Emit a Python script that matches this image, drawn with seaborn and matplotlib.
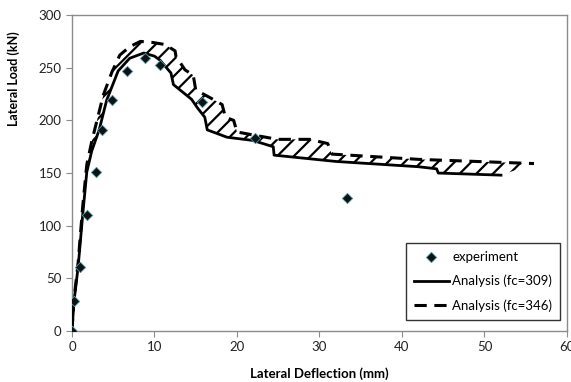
import matplotlib
matplotlib.use("Agg")
import matplotlib.pyplot as plt
import seaborn as sns
import pandas as pd
import numpy as np

# experiment points
exp_x = [0, 0.25, 1.0, 1.8, 2.9, 3.6, 4.85, 6.7, 8.85, 10.7, 15.8, 22.2, 33.3]
exp_y = [0, 28.5, 61, 110, 151, 191, 219, 247, 259, 253, 217, 183, 126]

# analysis fc=309 (solid)
a309_x = [0, 0.25, 0.75, 1.3, 1.8, 2.4, 3.3, 4.2, 5.6, 7.0, 8.7, 10.0, 10.7, 12.0, 12.3,
          14.5, 15.2, 16.1, 16.4, 18.8, 21.9, 24.4, 24.5, 32.0, 42.0, 44.2, 44.4, 52.0]
a309_y = [0, 28, 61, 110, 151, 171, 191, 219, 247, 259, 264, 261, 257, 245, 234,
          220, 212, 203, 191, 184, 181, 175, 167, 161, 156, 154, 150, 148]

# analysis fc=346 (dashed)
a346_x = [0, 0.25, 0.75, 1.3, 1.8, 2.4, 3.8, 4.85, 5.8, 7.0, 8.3, 9.8, 11.3, 12.5, 12.6,
          13.7, 14.7, 15.0, 17.1, 18.2, 18.6, 19.6, 20.0, 24.9, 28.8, 31.0, 31.5, 42.0, 56.0]
a346_y = [0, 30, 65, 118, 158, 180, 224, 246, 262, 270, 275, 274, 272, 266, 261,
          248, 243, 229, 220, 215, 203, 200, 189, 182, 182, 178, 168, 163, 159]

plt.rcParams['font.family'] = ['Lato', 'DejaVu Sans']
plt.rcParams['hatch.linewidth'] = 1.6

df_exp = pd.DataFrame({'x': exp_x, 'y': exp_y})
df309 = pd.DataFrame({'x': a309_x, 'y': a309_y})
df346 = pd.DataFrame({'x': a346_x, 'y': a346_y})

fig = plt.figure(figsize=(5.71, 3.82), dpi=100)
ax = fig.add_axes([0.126, 0.1335, 0.867, 0.827])

# hatched band between the two analyses
poly_x = np.concatenate([a346_x, a309_x[::-1]])
poly_y = np.concatenate([a346_y, a309_y[::-1]])
ax.fill(poly_x, poly_y, facecolor='none', edgecolor='black', hatch='//', linewidth=0, zorder=1)

sns.lineplot(data=df309, x='x', y='y', ax=ax, sort=False, estimator=None, color='black',
             linewidth=2.0, label='Analysis (fc=309)', zorder=3)
sns.lineplot(data=df346, x='x', y='y', ax=ax, sort=False, estimator=None, color='black',
             linewidth=2.2, label='Analysis (fc=346)', zorder=3)
ax.lines[-1].set_dashes([4, 2.5])
sns.scatterplot(data=df_exp, x='x', y='y', ax=ax, marker='D', s=28, color='#111111',
                edgecolor='#4a9fb0', linewidth=0.6, label='experiment', zorder=4)

ax.set_xlim(0, 60)
ax.set_ylim(0, 300)
ax.set_xticks(range(0, 61, 10))
ax.set_yticks(range(0, 301, 50))
for sp in ax.spines.values():
    sp.set_color('#8c8c8c')
    sp.set_linewidth(1.0)
ax.tick_params(direction='out', length=4, color='#8c8c8c', labelsize=9.5, labelcolor='#222222')
ax.set_xlabel('Lateral Deflection (mm)', fontsize=9.5, fontweight='bold', labelpad=10)
ax.set_ylabel('Lateral Load (kN)', fontsize=9, fontweight='bold', labelpad=10)
ax.yaxis.set_label_coords(-0.105, 0.80)

handles, labels = ax.get_legend_handles_labels()
order = [labels.index('experiment'), labels.index('Analysis (fc=309)'), labels.index('Analysis (fc=346)')]
leg = ax.legend([handles[i] for i in order], [labels[i] for i in order],
                loc='lower right', bbox_to_anchor=(0.992, 0.028), fontsize=9.5,
                frameon=True, fancybox=False, edgecolor='black', handlelength=2.6,
                borderpad=0.6, labelspacing=0.9, handletextpad=0.3, borderaxespad=0.2)
leg.get_frame().set_linewidth(1.0)

fig.savefig('out.png', dpi=100)
